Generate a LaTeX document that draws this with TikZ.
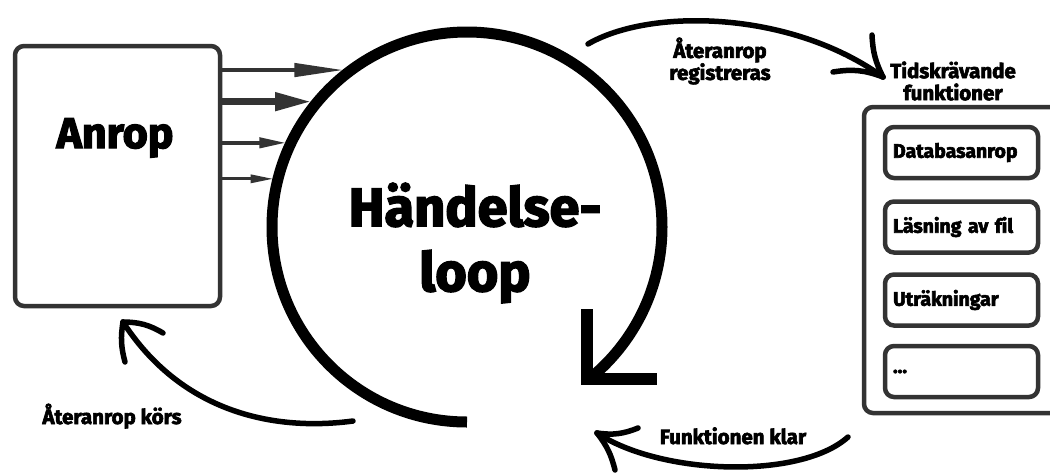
\documentclass[tikz,border=0pt]{standalone}
\usepackage{fontspec}
\setmainfont{Fira Sans}[Ligatures={NoCommon}, BoldFont={Fira Sans Bold}, BoldFeatures={FakeBold=3}]
\usetikzlibrary{arrows.meta}
\definecolor{dgray}{HTML}{333333}
\begin{document}
\begin{tikzpicture}[x=1pt,y=-1pt,
  gbox/.style={draw=dgray, line width=4.5pt, rounded corners=9pt},
  fbox/.style={gbox, minimum width=153pt, minimum height=51pt, text width=137pt, align=left, inner xsep=8pt, font=\bfseries\fontsize{19.5}{22}\selectfont},
  lbl/.style={font=\bfseries\fontsize{20.5}{22}\selectfont, align=center},
  hand/.style={line width=5.5pt, line cap=round},
  garr/.style={draw=dgray, fill=dgray}
  ]
\useasboundingbox (0,0) rectangle (1050,475);
% left box
\node[gbox, minimum width=205pt, minimum height=260pt] (anrop) at (117.5,176) {};
\node[font=\bfseries\fontsize{43}{48}\selectfont, anchor=base] (anroptxt) at (115,148) {Anrop};
% loop
\node[circle, minimum size=398pt, inner sep=0pt] (loop) at (467,227) {};
\draw[line width=11pt] (loop.center) ++(90:195) arc[start angle=90, end angle=411.6, radius=195] coordinate (lend);
\draw[line width=12pt, miter limit=10] (587,309) -- (587,378.5) -- (657,378.5);
\node[font=\bfseries\fontsize{54}{65}\selectfont, align=center] (looptxt) at (475,243) {Händelse-\\loop};
% arrows into loop
\draw[garr, line width=4.5pt, -{Triangle[length=50pt,width=13pt]}] (anrop.east |- loop.128.7) -- (loop.128.7);
\draw[garr, line width=7pt, -{Triangle[length=37pt,width=17pt]}] (anrop.east |- loop.141.9) -- (loop.141.9);
\draw[garr, line width=4pt, -{Triangle[length=27pt,width=10pt]}] (anrop.east |- loop.155.3) -- (loop.155.3);
\draw[garr, line width=3pt, -{Triangle[length=23pt,width=8pt]}] (anrop.east |- loop.166.5) -- (loop.166.5);
% right panel
\node[gbox, minimum width=210pt, minimum height=306pt] (panel) at (969,260) {};
\node[fbox] (f1) at (961.5,152.5) {Databasanrop};
\node[fbox] (f2) at (961.5,227) {Läsning av fil};
\node[fbox] (f3) at (961.5,300) {Uträkningar};
\node[fbox] (f4) at (961.5,371.5) {...};
% labels
\node[lbl] (reg) at (720,61) {Återanrop\\registreras};
\node[lbl] (tids) at (953,81) {Tidskrävande\\funktioner};
\node[lbl, anchor=base] (kors) at (112,424) {Återanrop körs};
\node[lbl, anchor=base] (klar) at (733,444) {Funktionen klar};
% hand drawn arrows
\coordinate (s1) at (588,44); \coordinate (t1) at (883,77);
\draw[hand] (s1) .. controls (650,8) and (790,10) .. (t1);
\draw[hand] (t1) to[bend left=12] ++(-11,-42);
\draw[hand] (t1) to[bend right=15] ++(-50,-5);
\coordinate (s2) at (353,421); \coordinate (t2) at (123,322);
\draw[hand] (s2) .. controls (270,432) and (180,410) .. (t2);
\draw[hand] (t2) to[bend right=12] ++(2,40);
\draw[hand] (t2) to[bend left=15] ++(40,11);
\coordinate (s3) at (848,437); \coordinate (t3) at (597,433);
\draw[hand] (s3) .. controls (800,480) and (660,475) .. (t3);
\draw[hand] (t3) to[bend right=15] ++(41,-5);
\draw[hand] (t3) to[bend left=12] ++(18,37);
\end{tikzpicture}
\end{document}
